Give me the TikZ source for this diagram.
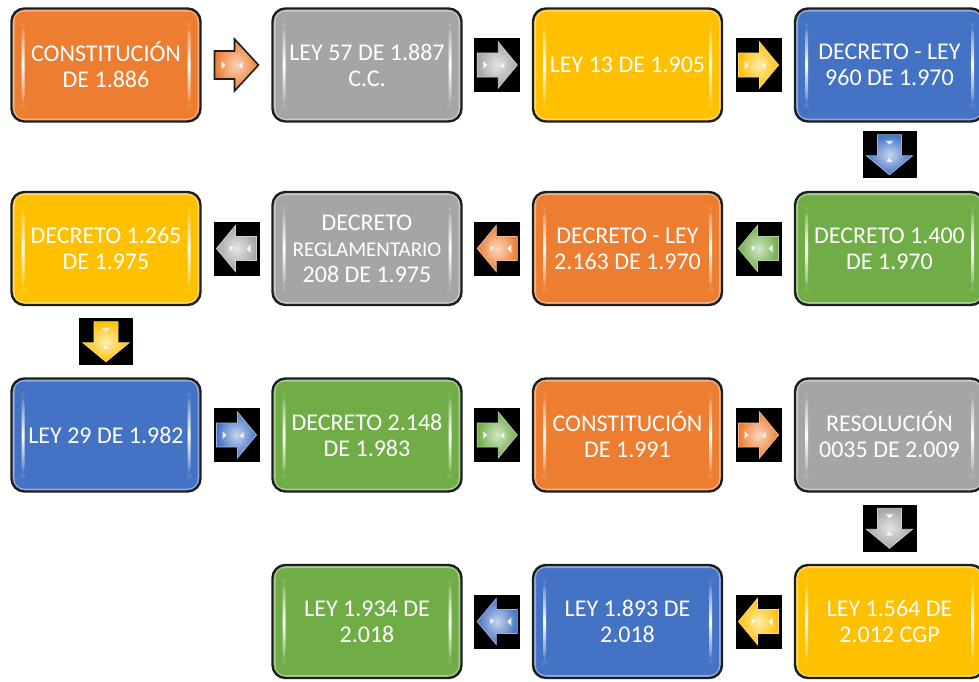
\documentclass[tikz,border=0pt]{standalone}
\usepackage{fontspec}
\setmainfont{Carlito}
\usetikzlibrary{calc}
\definecolor{cOr}{HTML}{ED7D31}
\definecolor{cGr}{HTML}{A5A5A5}
\definecolor{cYe}{HTML}{FFC000}
\definecolor{cBl}{HTML}{4472C4}
\definecolor{cGn}{HTML}{70AD47}
\definecolor{cBd}{HTML}{1E1E1E}
\tikzset{
  box/.style={draw=cBd, line width=2.4pt, rounded corners=13pt,
    minimum width=189pt, minimum height=113pt, inner sep=0pt,
    align=center, text=white, font=\fontsize{24}{26}\selectfont, fill=#1,
    path picture={
      \draw[#1!60!white, line width=6pt, rounded corners=12pt]
        (path picture bounding box.south west) rectangle (path picture bounding box.north east);
      \shade[top color=#1, bottom color=#1, middle color=white]
        ([shift={(10pt,12pt)}]path picture bounding box.south west) rectangle
        ([shift={(13pt,-12pt)}]path picture bounding box.north west);
      \shade[top color=#1, bottom color=#1, middle color=white]
        ([shift={(-13pt,12pt)}]path picture bounding box.south east) rectangle
        ([shift={(-10pt,-12pt)}]path picture bounding box.north east);
    }},
  blkh/.style={fill=black, minimum width=46pt, minimum height=54pt, inner sep=0pt},
  blkv/.style={fill=black, minimum width=54pt, minimum height=47pt, inner sep=0pt},
  freearr/.style={minimum width=50pt, minimum height=56pt, inner sep=0pt},
  barrow/.pic={
    \shade[inner color=#1!30!white, outer color=#1, draw=#1!55!white, line width=0.8pt]
      (-20pt,12pt) -- (1pt,12pt) -- (1pt,23pt) -- (20pt,0pt) -- (1pt,-23pt)
      -- (1pt,-12pt) -- (-20pt,-12pt) -- cycle;
    \fill[white, opacity=0.85] (-14pt,4pt) -- (-10pt,0pt) -- (-14pt,-4pt) -- cycle;
    \fill[white, opacity=0.85] (7pt,3pt) -- (3pt,-1pt) -- (7pt,-3pt) -- cycle;
  },
  oarrow/.pic={
    \shade[inner color=#1!35!white, outer color=#1, draw=cBd, line width=1.6pt]
      (-22pt,14pt) -- (-2pt,14pt) -- (-2pt,26pt) -- (22pt,0pt) -- (-2pt,-26pt)
      -- (-2pt,-14pt) -- (-22pt,-14pt) -- cycle;
    \fill[white, opacity=0.85] (-15pt,4pt) -- (-11pt,0pt) -- (-15pt,-4pt) -- cycle;
    \fill[white, opacity=0.85] (6pt,3pt) -- (2pt,-1pt) -- (6pt,-3pt) -- cycle;
  }
}
\begin{document}
\begin{tikzpicture}[x=1pt,y=-1pt]
\useasboundingbox (0,0) rectangle (979,681);
\fill[white] (0,0) rectangle (979,681);
% row 1
\node[box=cOr] (b1) at (106,65) {CONSTITUCIÓN\\DE 1.886};
\node[box=cGr] (b2) at (367,65) {LEY 57 DE 1.887\\C.C.};
\node[box=cYe] (b3) at (627.5,65) {LEY 13 DE 1.905};
\node[box=cBl] (b4) at (889.5,65) {DECRETO - LEY\\960 DE 1.970};
% row 2
\node[box=cGn] (b8) at (889.5,248.5) {DECRETO 1.400\\DE 1.970};
\node[box=cOr] (b7) at (627.5,248.5) {DECRETO - LEY\\2.163 DE 1.970};
\node[box=cGr] (b6) at (367,248.5) {DECRETO\\{\fontsize{21}{26}\selectfont REGLAMENTARIO}\\208 DE 1.975};
\node[box=cYe] (b5) at (106,248.5) {DECRETO 1.265\\DE 1.975};
% row 3
\node[box=cBl] (b9) at (106,435) {LEY 29 DE 1.982};
\node[box=cGn] (b10) at (367,435) {DECRETO 2.148\\DE 1.983};
\node[box=cOr] (b11) at (627.5,435) {CONSTITUCIÓN\\DE 1.991};
\node[box=cGr] (b12) at (889.5,435) {RESOLUCIÓN\\0035 DE 2.009};
% row 4
\node[box=cYe] (b13) at (889.5,621.5) {LEY 1.564 DE\\2.012 CGP};
\node[box=cBl] (b14) at (627.5,621.5) {LEY 1.893 DE\\2.018};
\node[box=cGn] (b15) at (367,621.5) {LEY 1.934 DE\\2.018};
% arrows row 1
\node[freearr] (a1) at ($(b1.east)!.5!(b2.west)$) {};
\pic at (a1) {oarrow=cOr};
\node[blkh] (a2) at ($(b2.east)!.5!(b3.west)$) {};
\pic at (a2) {barrow=cGr};
\node[blkh] (a3) at ($(b3.east)!.5!(b4.west)$) {};
\pic at (a3) {barrow=cYe};
\node[blkv] (a4) at ($(b4.south)!.5!(b8.north)+(0,-2)$) {};
\pic[rotate=-90] at (a4) {barrow=cBl};
% arrows row 2
\node[blkh] (a5) at ($(b8.west)!.5!(b7.east)$) {};
\pic[rotate=180] at (a5) {barrow=cGn};
\node[blkh] (a6) at ($(b7.west)!.5!(b6.east)$) {};
\pic[rotate=180] at (a6) {barrow=cOr};
\node[blkh] (a7) at ($(b6.west)!.5!(b5.east)$) {};
\pic[rotate=180] at (a7) {barrow=cGr};
\node[blkv] (a8) at ($(b5.south)!.5!(b9.north)$) {};
\pic[rotate=-90] at (a8) {barrow=cYe};
% arrows row 3
\node[blkh] (a9) at ($(b9.east)!.5!(b10.west)$) {};
\pic at (a9) {barrow=cBl};
\node[blkh] (a10) at ($(b10.east)!.5!(b11.west)$) {};
\pic at (a10) {barrow=cGn};
\node[blkh] (a11) at ($(b11.east)!.5!(b12.west)$) {};
\pic at (a11) {barrow=cOr};
\node[blkv] (a12) at ($(b12.south)!.5!(b13.north)$) {};
\pic[rotate=-90] at (a12) {barrow=cGr};
% arrows row 4
\node[blkh] (a13) at ($(b13.west)!.5!(b14.east)$) {};
\pic[rotate=180] at (a13) {barrow=cYe};
\node[blkh] (a14) at ($(b14.west)!.5!(b15.east)$) {};
\pic[rotate=180] at (a14) {barrow=cBl};
\end{tikzpicture}
\end{document}
